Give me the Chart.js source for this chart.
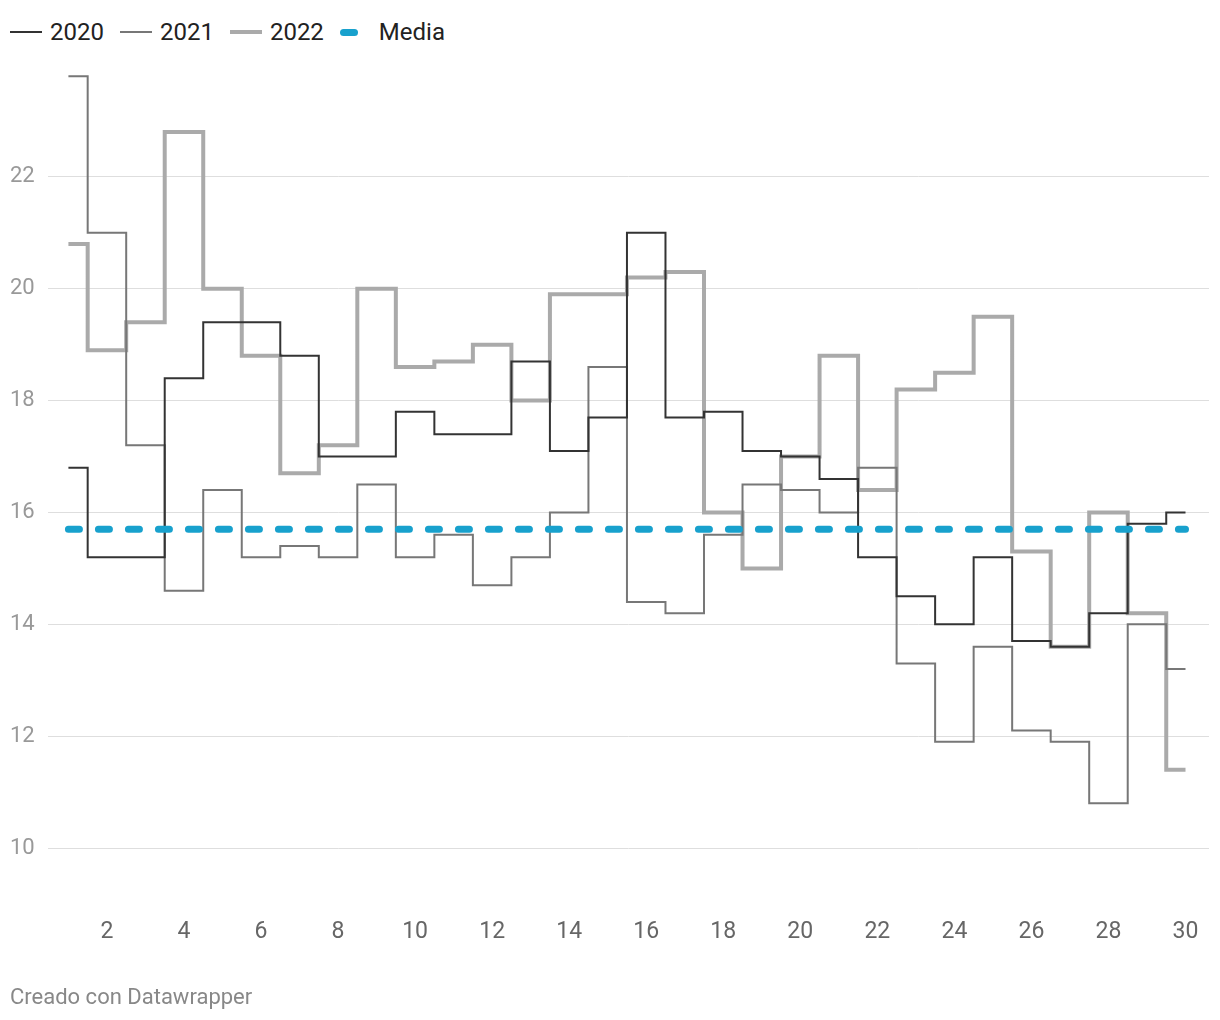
<!DOCTYPE html>
<html>
<head>
<meta charset="utf-8">
<script src="https://cdn.jsdelivr.net/npm/chart.js@4"></script>
<style>
  body{margin:0;width:1220px;height:1020px;background:#fff;font-family:Roboto,sans-serif;position:relative;overflow:hidden;}
  #legend{position:absolute;left:10px;top:18px;display:flex;align-items:center;font-size:24px;color:#222;}
  .item{display:flex;align-items:center;margin-right:16px;}
  .swatch{display:inline-block;width:32px;margin-right:8px;}
  #wrap{position:absolute;left:0;top:0;width:1220px;height:1020px;}
  #foot{position:absolute;left:10px;top:984px;font-size:22px;color:#888;}
</style>
</head>
<body>
<div id="legend"></div>
<div id="wrap"><canvas id="chart"></canvas></div>
<div id="foot">Creado con Datawrapper</div>
<script>
/* ------- DATA ------- */
const days = [1,2,3,4,5,6,7,8,9,10,11,12,13,14,15,16,17,18,19,20,21,22,23,24,25,26,27,28,29,30];
const y2020 = [16.8,15.2,15.2,18.4,19.4,19.4,18.8,17.0,17.0,17.8,17.4,17.4,18.7,17.1,17.7,21.0,17.7,17.8,17.1,17.0,16.6,15.2,14.5,14.0,15.2,13.7,13.6,14.2,15.8,16.0];
const y2021 = [23.8,21.0,17.2,14.6,16.4,15.2,15.4,15.2,16.5,15.2,15.6,14.7,15.2,16.0,18.6,14.4,14.2,15.6,16.5,16.4,16.0,16.8,13.3,11.9,13.6,12.1,11.9,10.8,14.0,13.2];
const y2022 = [20.8,18.9,19.4,22.8,20.0,18.8,16.7,17.2,20.0,18.6,18.7,19.0,18.0,19.9,19.9,20.2,20.3,16.0,15.0,17.0,18.8,16.4,18.2,18.5,19.5,15.3,13.6,16.0,14.2,11.4];
const media = 15.7;
const xTicks = [2,4,6,8,10,12,14,16,18,20,22,24,26,28,30];
const yTicks = [10,12,14,16,18,20,22];

const pts = arr => arr.map((v,i)=>({x:days[i], y:v}));

/* ------- LEGEND ------- */
const legendItems = [
  {label:"2020", color:"#333", w:2},
  {label:"2021", color:"#777", w:2},
  {label:"2022", color:"#aaa", w:4},
  {label:"Media", color:"#18a1cd", w:7, dash:true}
];
const legend = document.getElementById("legend");
legendItems.forEach(l=>{
  const d = document.createElement("div");
  d.className = "item";
  const s = l.dash
    ? `<span class="swatch" style="width:18px;height:${l.w}px;border-radius:4px;background:${l.color};margin-right:21px"></span>`
    : `<span class="swatch" style="height:${l.w}px;background:${l.color}"></span>`;
  d.innerHTML = s + `<span>${l.label}</span>`;
  legend.appendChild(d);
});

/* ------- CHART ------- */
const line = (label,data,color,w,order) => ({
  label, data:pts(data), borderColor:color, borderWidth:w, stepped:"middle",
  pointRadius:0, fill:false, order
});

new Chart(document.getElementById("chart"),{
  type:"line",
  data:{
    datasets:[
      line("2020", y2020, "#333", 2, 1),
      line("2021", y2021, "#777", 2, 2),
      line("2022", y2022, "#aaa", 4, 3),
      {
        label:"Media", data:[{x:days[0],y:media},{x:days[days.length-1],y:media}],
        borderColor:"#18a1cd", borderWidth:7, borderDash:[11,19], borderCapStyle:"round",
        pointRadius:0, fill:false, order:0
      }
    ]
  },
  options:{
    responsive:true, maintainAspectRatio:false, animation:false,
    layout:{padding:{left:10, right:11, top:65, bottom:70}},
    plugins:{legend:{display:false}, tooltip:{enabled:false}},
    scales:{
      x:{
        type:"linear", min:0.47, max:30.61,
        grid:{display:false}, border:{display:false},
        afterBuildTicks:s=>{ s.ticks = xTicks.map(v=>({value:v})); },
        afterFit:s=>{ s.height = 46; },
        ticks:{padding:6, color:"#666", font:{family:"Roboto", size:23}, maxRotation:0}
      },
      y:{
        min:9, max:24,
        grid:{color:"#dedede", lineWidth:1, drawTicks:false}, border:{display:false},
        afterBuildTicks:s=>{ s.ticks = yTicks.map(v=>({value:v})); },
        afterFit:s=>{ s.width = 38; },
        ticks:{crossAlign:"far", padding:0, color:"#999", font:{family:"Roboto", size:22}}
      }
    }
  }
});
</script>
</body>
</html>
